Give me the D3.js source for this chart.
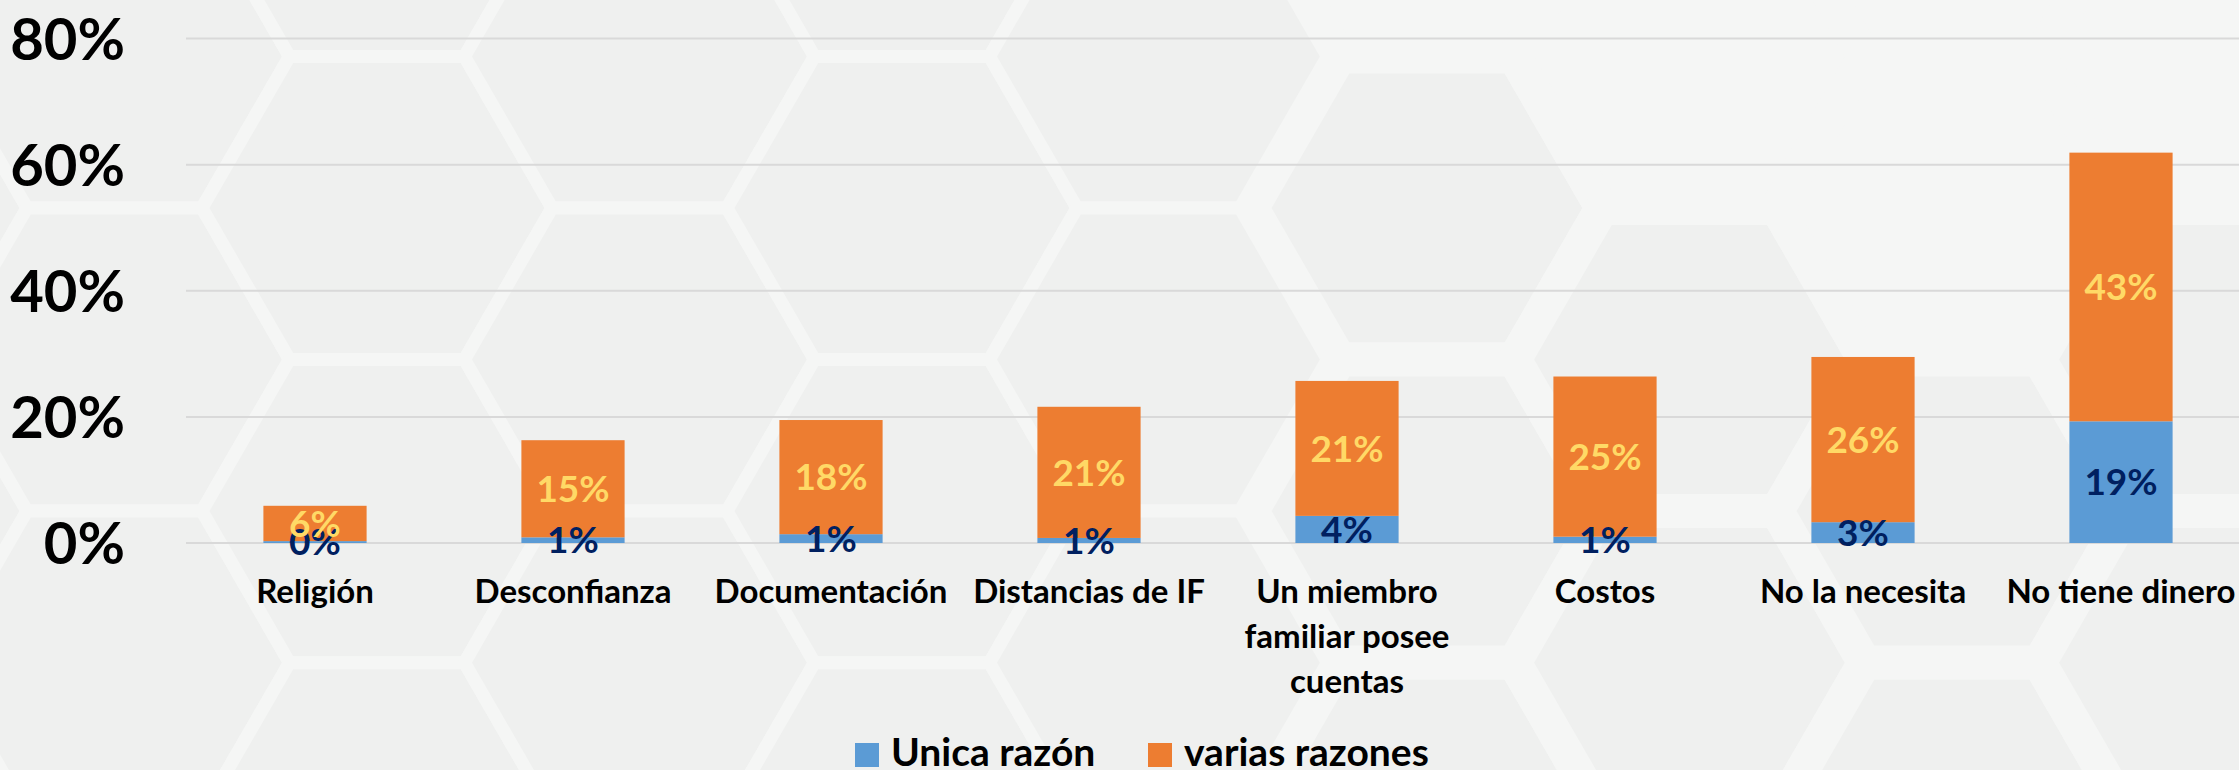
<!DOCTYPE html>
<html>
<head>
<meta charset="utf-8">
<script src="https://cdn.jsdelivr.net/npm/d3@7"></script>
<style>
  body { margin: 0; background: #eff0ef; }
  svg { display: block; font-family: Lato, "Open Sans", sans-serif; font-weight: bold; }
</style>
</head>
<body>
<div id="chart"></div>
<script>
'use strict';

// data
const categories = ["Religión", "Desconfianza", "Documentación", "Distancias de IF",
                    "Un miembro familiar posee cuentas", "Costos", "No la necesita", "No tiene dinero"];
const unicaRazon    = [0.3, 0.9, 1.4, 0.8, 4.3, 1.0, 3.3, 19.3];
const variasRazones = [5.6, 15.4, 18.1, 20.8, 21.4, 25.4, 26.2, 42.6];
const seriesNames   = ["Unica razón", "varias razones"];
const yTicks        = [0, 20, 40, 60, 80];

const W = 2239, H = 770;
const colors = { unica: "#5b9bd5", varias: "#ed7d31", unicaLbl: "#002060", variasLbl: "#ffd966" };

const svg = d3.select("#chart").append("svg")
              .attr("width", W)
              .attr("height", H);

// background honeycomb
const bg = svg.append("g").attr("class", "bg");
bg.append("rect").attr("width", W).attr("height", H).attr("fill", "#eff0ef");

const s = 175, hx = 377, hy = 208;
const hexPath = (cx, cy, r) => {
	let pts = d3.range(6).map(i => [cx + r * Math.cos(i * Math.PI / 3), cy + r * Math.sin(i * Math.PI / 3)]);
	return "M" + pts.join("L") + "Z";
};
for (let k = -2; k < 10; k++) {
	let cx = hx + k * 1.5 * s;
	let off = (k % 2 === 0) ? 0 : s * Math.sqrt(3) / 2;
	for (let j = -2; j < 4; j++) {
		let cy = hy + off + j * s * Math.sqrt(3);
		let light = (cx > 1600 && cy < 250) || (cx > 1300 && cy < -50);
		let thick = cx > 1300;
		bg.append("path")
		  .attr("d", hexPath(cx, cy, s))
		  .attr("fill", light ? "#f5f6f5" : "#eff0ef")
		  .attr("stroke", "#f5f6f5")
		  .attr("stroke-width", thick ? 34 : 13);
	}
}

// scales
const x = d3.scaleBand()
			.domain(categories)
			.range([186, 2250])
			.paddingInner(0.6)
			.paddingOuter(0.3);

const y = d3.scaleLinear()
			.domain([0, 80])
			.range([543, 38.5]);

// gridlines
svg.append("g")
   .attr("class", "grid")
   .selectAll("line")
   .data(yTicks)
   .join("line")
   .attr("x1", 186).attr("x2", W)
   .attr("y1", d => y(d)).attr("y2", d => y(d))
   .attr("stroke", "#d9d9d9")
   .attr("stroke-width", 2);

// y axis
const yAxis = svg.append("g")
				 .attr("transform", "translate(125,0)")
				 .call(d3.axisLeft(y).tickValues(yTicks).tickSize(0).tickPadding(0).tickFormat(d => d + "%"));
yAxis.select(".domain").remove();
yAxis.selectAll("text")
	 .attr("font-size", 58)
	 .attr("font-family", "Lato, sans-serif")
	 .attr("font-weight", "bold")
	 .attr("fill", "#000")
	 .attr("dy", "0.36em");

// stacked bars
const rows = categories.map((c, i) => ({ cat: c, unica: unicaRazon[i], varias: variasRazones[i] }));
const stack = d3.stack().keys(["unica", "varias"])(rows);

const layers = svg.append("g").attr("class", "bars")
				  .selectAll("g")
				  .data(stack)
				  .join("g")
				  .attr("fill", d => colors[d.key]);

layers.selectAll("rect")
	  .data(d => d)
	  .join("rect")
	  .attr("x", d => x(d.data.cat))
	  .attr("width", x.bandwidth())
	  .attr("y", d => y(d[1]))
	  .attr("height", d => y(d[0]) - y(d[1]));

// data labels
const lbls = svg.append("g").attr("class", "labels")
				.selectAll("g")
				.data(stack)
				.join("g")
				.attr("fill", d => colors[d.key + "Lbl"]);

lbls.selectAll("text")
	.data(d => d)
	.join("text")
	.attr("x", d => x(d.data.cat) + x.bandwidth() / 2)
	.attr("y", d => (y(d[0]) + y(d[1])) / 2)
	.attr("dy", "0.36em")
	.attr("text-anchor", "middle")
	.attr("font-size", 37)
	.text(d => Math.round(d[1] - d[0]) + "%");

// x axis labels with wrapping
function wrap(text, width) {
	text.each(function(d) {
		let t = d3.select(this), words = d.split(" "), lines = [], line = [];
		let probe = t.text("");
		words.forEach(w => {
			line.push(w);
			probe.text(line.join(" "));
			if (this.getComputedTextLength() > width && line.length > 1) {
				line.pop();
				lines.push(line.join(" "));
				line = [w];
			}
		});
		lines.push(line.join(" "));
		t.text("");
		lines.forEach((l, i) => t.append("tspan").attr("x", 0).attr("y", i * 45).text(l));
	});
}

svg.append("g").attr("class", "xlabels")
   .selectAll("text")
   .data(categories)
   .join("text")
   .attr("transform", d => `translate(${x(d) + x.bandwidth() / 2},603)`)
   .attr("text-anchor", "middle")
   .attr("font-size", 33)
   .attr("fill", "#000")
   .text(d => d)
   .call(wrap, x.step() - 4);

// legend
const legend = svg.append("g").attr("class", "legend");
const legX = [855, 1148];
const legKeys = ["unica", "varias"];
seriesNames.forEach((n, i) => {
	legend.append("rect")
		  .attr("x", legX[i]).attr("y", 743)
		  .attr("width", 24).attr("height", 24)
		  .attr("fill", colors[legKeys[i]]);
	legend.append("text")
		  .attr("x", legX[i] + 36).attr("y", 766)
		  .attr("font-size", 39)
		  .attr("fill", "#000")
		  .text(n);
});
</script>
</body>
</html>
